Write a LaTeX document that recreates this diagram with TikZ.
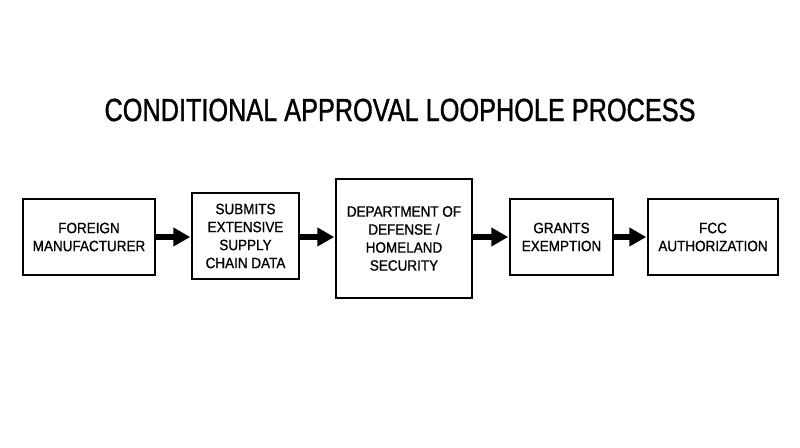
\documentclass[tikz,border=0pt]{standalone}
\usepackage{fontspec}
\setmainfont[FakeStretch=0.9,FakeBold=0.9]{Liberation Sans}
\newfontfamily\titlefont[FakeStretch=0.79,FakeBold=1.2]{Liberation Sans}
\usetikzlibrary{arrows.meta}
\begin{document}
\begin{tikzpicture}[x=1pt,y=-1pt,
  box/.style={draw=black,line width=1.5pt,fill=white,inner sep=0pt,align=center,
    font=\fontsize{15}{18}\selectfont},
  flow/.style={line width=5.5pt,-{Triangle[length=17pt,width=18pt]},shorten >=1pt}]
\useasboundingbox (0,0) rectangle (800,447);
\node[font=\titlefont\fontsize{32}{36}\selectfont] (title) at (400,110) {CONDITIONAL APPROVAL LOOPHOLE PROCESS};
\node[box,minimum width=132pt,minimum height=76pt] (b1) at (89,237) {FOREIGN\\MANUFACTURER};
\node[box,minimum width=107pt,minimum height=86pt] (b2) at (245.5,236) {SUBMITS\\EXTENSIVE\\SUPPLY\\CHAIN DATA};
\node[box,minimum width=136pt,minimum height=119pt] (b3) at (404,238.5) {DEPARTMENT OF\\DEFENSE /\\HOMELAND\\SECURITY};
\node[box,minimum width=103pt,minimum height=76pt] (b4) at (561.5,237) {GRANTS\\EXEMPTION};
\node[box,minimum width=130pt,minimum height=76pt] (b5) at (713,237) {FCC\\AUTHORIZATION};
\draw[flow] (b1.east) -- (b2.west |- b1.east);
\draw[flow] (b2.east |- b1.east) -- (b3.west |- b1.east);
\draw[flow] (b3.east |- b1.east) -- (b4.west);
\draw[flow] (b4.east) -- (b5.west);
\end{tikzpicture}
\end{document}
